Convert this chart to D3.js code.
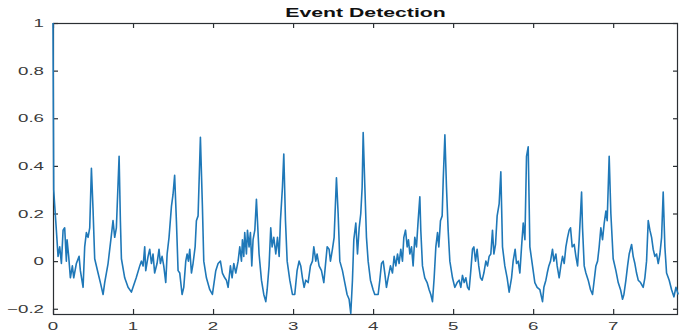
<!DOCTYPE html>
<html>
<head>
<meta charset="utf-8">
<script src="https://cdn.jsdelivr.net/npm/d3@7"></script>
<style>
  body { margin: 0; background: #fff; }
</style>
</head>
<body>
<svg id="chart" width="679" height="334"></svg>
<script>
// signal samples: time and amplitude
const signalX = [
  0, 0.005, 0.009, 0.02, 0.042, 0.063, 0.084, 0.105, 0.126, 0.146, 0.167, 0.176, 0.196, 0.217, 0.242, 0.259, 0.292, 0.326, 0.342, 0.376,
  0.396, 0.417, 0.438, 0.459, 0.48, 0.5, 0.521, 0.563, 0.592, 0.626, 0.646, 0.688, 0.73, 0.75, 0.771, 0.792, 0.826, 0.842, 0.855, 0.896,
  0.938, 0.98,
  1.0, 1.04, 1.084, 1.105, 1.126, 1.146, 1.159, 1.188, 1.209, 1.23, 1.25, 1.27, 1.3, 1.325, 1.342, 1.363, 1.384, 1.409, 1.426, 1.45,
  1.48, 1.5, 1.52, 1.542, 1.563, 1.584, 1.613, 1.634, 1.659, 1.676, 1.692, 1.709, 1.73, 1.75, 1.776, 1.792, 1.813, 1.842, 1.867, 1.884,
  1.917, 1.959, 1.992,
  2.034, 2.063, 2.092, 2.117, 2.146, 2.167, 2.188, 2.217, 2.238, 2.259, 2.284, 2.313, 2.334, 2.355, 2.367, 2.384, 2.396, 2.417, 2.43, 2.45,
  2.467, 2.484, 2.5, 2.522, 2.542, 2.555, 2.575, 2.605, 2.634, 2.659, 2.676, 2.7, 2.721, 2.738, 2.759, 2.784, 2.805, 2.826, 2.842, 2.867,
  2.884, 2.905, 2.926, 2.959, 2.992,
  3.021, 3.05, 3.075, 3.096, 3.117, 3.138, 3.159, 3.188, 3.217, 3.242, 3.259, 3.284, 3.3, 3.325, 3.355, 3.384, 3.409, 3.426, 3.45, 3.467,
  3.492, 3.513, 3.542, 3.563, 3.584, 3.617, 3.646, 3.675, 3.7, 3.721, 3.742, 3.759, 3.784, 3.805, 3.826, 3.846, 3.863, 3.876, 3.897, 3.917,
  3.938, 3.967,
  4.0, 4.021, 4.063, 4.084, 4.105, 4.126, 4.146, 4.167, 4.188, 4.217, 4.242, 4.263, 4.284, 4.305, 4.325, 4.346, 4.367, 4.384, 4.405, 4.426,
  4.442, 4.459, 4.48, 4.5, 4.521, 4.542, 4.563, 4.584, 4.596, 4.617, 4.646, 4.675, 4.7, 4.721, 4.742, 4.763, 4.784, 4.805, 4.821, 4.842,
  4.863, 4.876, 4.897, 4.917, 4.938, 4.959, 4.992,
  5.021, 5.05, 5.075, 5.096, 5.117, 5.138, 5.159, 5.18, 5.2, 5.221, 5.242, 5.259, 5.28, 5.3, 5.32, 5.342, 5.363, 5.384, 5.409, 5.43,
  5.45, 5.471, 5.492, 5.509, 5.53, 5.55, 5.575, 5.596, 5.617, 5.646, 5.675, 5.7, 5.73, 5.75, 5.775, 5.792, 5.813, 5.834, 5.855, 5.876,
  5.897, 5.917, 5.938, 5.959, 5.992,
  6.021, 6.05, 6.084, 6.117, 6.134, 6.159, 6.176, 6.196, 6.217, 6.242, 6.259, 6.284, 6.3, 6.325, 6.346, 6.367, 6.388, 6.409, 6.43, 6.45,
  6.467, 6.488, 6.513, 6.534, 6.555, 6.575, 6.592, 6.605, 6.617, 6.638, 6.659, 6.688, 6.717, 6.742, 6.763, 6.784, 6.805, 6.825, 6.846, 6.867,
  6.888, 6.909, 6.925, 6.95, 6.971, 7.0,
  7.034, 7.063, 7.092, 7.117, 7.134, 7.159, 7.18, 7.2, 7.23, 7.25, 7.271, 7.292, 7.313, 7.342, 7.375, 7.396, 7.417, 7.438, 7.459, 7.48,
  7.5, 7.521, 7.542, 7.563, 7.584, 7.605, 7.625, 7.646, 7.667, 7.7, 7.73, 7.759, 7.784, 7.813
]
const signalY = [
  1, 0.6, 0.3, 0.24, 0.13, 0.02, 0.06, -0.01, 0.13, 0.14, 0.0, 0.09, 0.02, -0.07, -0.02, -0.07, -0.01, 0.02, -0.04, -0.11,
  0.06, 0.12, 0.10, 0.14, 0.39, 0.22, 0.01, -0.05, -0.09, -0.14, -0.09, -0.01, 0.11, 0.17, 0.10, 0.14, 0.44, 0.17, 0.01, -0.07,
  -0.11, -0.13,
  -0.11, -0.07, -0.02, 0.0, -0.02, 0.06, -0.04, 0.02, 0.05, -0.01, 0.03, -0.05, -0.01, 0.05, -0.01, 0.02, -0.02, -0.09, 0.03, 0.10,
  0.23, 0.28, 0.36, 0.17, -0.04, -0.05, -0.14, -0.11, 0.0, 0.03, 0.0, 0.05, -0.05, -0.01, 0.06, 0.17, 0.19, 0.52, 0.23, 0.0,
  -0.07, -0.12, -0.14,
  -0.04, -0.01, 0.0, -0.05, -0.07, -0.08, -0.11, -0.02, -0.07, -0.01, -0.05, 0.0, 0.06, 0.0, 0.09, 0.02, 0.12, 0.03, 0.13, 0.06,
  0.12, -0.02, 0.09, 0.13, 0.26, 0.17, 0.03, -0.08, -0.14, -0.17, -0.12, -0.02, 0.14, 0.06, 0.10, 0.03, 0.10, 0.02, 0.17, 0.31,
  0.45, 0.17, 0.0, -0.08, -0.14,
  -0.14, -0.04, 0.0, -0.02, -0.07, -0.11, -0.08, -0.09, -0.02, 0.0, 0.06, 0.0, 0.03, -0.02, -0.04, -0.09, 0.0, 0.06, 0.05, 0.0,
  0.05, 0.10, 0.35, 0.20, 0.0, -0.04, -0.09, -0.14, -0.16, -0.22, -0.08, 0.09, 0.16, 0.03, 0.14, 0.2, 0.31, 0.54, 0.31, 0.10,
  0.0, -0.08,
  -0.12, -0.14, -0.14, -0.08, -0.01, 0.0, -0.05, -0.11, -0.07, -0.02, -0.05, 0.02, -0.02, 0.03, -0.01, 0.05, 0.0, 0.10, 0.13, 0.06,
  0.09, 0.03, 0.06, -0.02, 0.10, 0.06, 0.17, 0.27, 0.13, -0.02, -0.07, -0.09, -0.12, -0.14, -0.17, -0.07, 0.06, 0.12, 0.06, 0.17,
  0.19, 0.34, 0.53, 0.31, 0.13, 0.0, -0.07,
  -0.11, -0.09, -0.08, -0.11, -0.06, -0.09, -0.07, -0.11, -0.12, -0.04, 0.05, 0.06, 0.0, 0.05, -0.02, -0.07, -0.08, -0.05, 0.0, -0.02,
  0.02, 0.03, 0.13, 0.03, 0.07, 0.19, 0.24, 0.375, 0.06, -0.02, -0.07, -0.13, -0.07, 0.0, 0.05, -0.01, 0.0, -0.05, 0.06, 0.16,
  0.09, 0.44, 0.48, 0.06, -0.02,
  -0.09, -0.11, -0.12, -0.17, -0.11, -0.08, -0.05, -0.02, 0.0, 0.05, 0.0, 0.03, -0.02, -0.07, -0.02, 0.02, -0.01, 0.06, 0.10, 0.13,
  0.14, 0.06, 0.07, 0.02, -0.02, 0.09, 0.2, 0.29, 0.14, -0.02, -0.05, -0.08, -0.12, -0.14, -0.08, -0.02, 0.0, 0.06, 0.14, 0.09,
  0.16, 0.21, 0.17, 0.44, 0.2, 0.01,
  -0.04, -0.09, -0.12, -0.16, -0.14, -0.08, -0.02, 0.03, 0.07, 0.02, -0.01, -0.05, -0.08, -0.09, -0.11, -0.07, 0.0, 0.17, 0.13, 0.10,
  0.05, 0.02, 0.03, -0.01, 0.03, 0.10, 0.29, 0.06, -0.05, -0.08, -0.12, -0.15, -0.11, -0.14
]
const xTicks = [0, 1, 2, 3, 4, 5, 6, 7]
const yTicks = [-0.2, 0, 0.2, 0.4, 0.6, 0.8, 1]
const chartTitle = 'Event Detection'

const margin = { top: 23, right: 1, bottom: 20, left: 53 }
const W = 679
const H = 334
const innerW = W - margin.left - margin.right
const innerH = H - margin.top - margin.bottom
const stretch = 1.7 // the source picture is squeezed wider than tall
const axisColor = '#2b2f33'

const svg = d3.select('#chart')

const x = d3.scaleLinear().domain([0, 7.81]).range([margin.left, margin.left + innerW])
const y = d3.scaleLinear().domain([-0.222, 1]).range([margin.top + innerH, margin.top])

const x0 = x.range()[0], x1 = x.range()[1]
const y0 = y.range()[1], y1 = y.range()[0]

// box
svg.append('rect')
  .attr('x', x0 + 0.5).attr('y', y0 + 0.5)
  .attr('width', x1 - x0 - 1).attr('height', y1 - y0)
  .attr('fill', 'none').attr('stroke', axisColor).attr('stroke-width', 1.2)

// ticks, pointing inward on all four sides
const tickg = svg.append('g').attr('stroke', axisColor).attr('stroke-width', 1.2)
tickg.selectAll('line.xb').data(xTicks).join('line').attr('class', 'xb')
  .attr('x1', d => x(d) + 0.5).attr('x2', d => x(d) + 0.5).attr('y1', y1).attr('y2', y1 - 5)
tickg.selectAll('line.xt').data(xTicks).join('line').attr('class', 'xt')
  .attr('x1', d => x(d) + 0.5).attr('x2', d => x(d) + 0.5).attr('y1', y0).attr('y2', y0 + 5)
tickg.selectAll('line.yl').data(yTicks).join('line').attr('class', 'yl')
  .attr('x1', x0).attr('x2', x0 + 5).attr('y1', d => y(d) + 0.5).attr('y2', d => y(d) + 0.5)
tickg.selectAll('line.yr').data(yTicks).join('line').attr('class', 'yr')
  .attr('x1', x1 - 5).attr('x2', x1).attr('y1', d => y(d) + 0.5).attr('y2', d => y(d) + 0.5)

const points = signalX.map((d, i) => [d, signalY[i]])
const lineGen = d3.line().x(d => x(d[0])).y(d => y(d[1]))

svg.append('path')
  .datum(points)
  .attr('d', lineGen)
  .attr('fill', 'none')
  .attr('stroke', '#1f78b8')
  .attr('stroke-width', 1.6)
  .attr('stroke-linejoin', 'round')

// tick labels
svg.append('g')
  .selectAll('text')
  .data(xTicks)
  .join('text')
  .attr('transform', d => `translate(${x(d)},${y1 + 16}) scale(${stretch},1)`)
  .attr('text-anchor', 'middle')
  .attr('font-size', 11)
  .attr('font-family', '"Liberation Sans", Arial, sans-serif')
  .attr('fill', '#3a3a3a')
  .text(d => d)

svg.append('g')
  .selectAll('text')
  .data(yTicks)
  .join('text')
  .attr('transform', d => `translate(${x0 - 9},${y(d) + 4}) scale(${stretch},1)`)
  .attr('text-anchor', 'end')
  .attr('font-size', 11)
  .attr('font-family', '"Liberation Sans", Arial, sans-serif')
  .attr('fill', '#3a3a3a')
  .text(d => d === 0 ? '0' : d3.format('.1~f')(d))

svg.append('text')
  .attr('transform', `translate(${(x0 + x1) / 2},17) scale(${stretch},1)`)
  .attr('text-anchor', 'middle')
  .attr('font-size', 12.5)
  .attr('font-weight', 'bold')
  .attr('font-family', '"Liberation Sans", Arial, sans-serif')
  .attr('fill', '#111')
  .text(chartTitle)
</script>
</body>
</html>
